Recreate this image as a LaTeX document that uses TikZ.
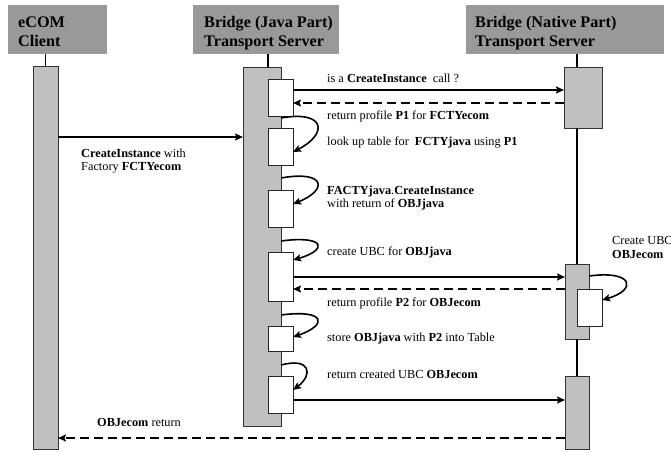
\documentclass[tikz,border=0pt]{standalone}
\usepackage{fontspec}
\setmainfont{Liberation Serif}
\usetikzlibrary{arrows.meta}
\definecolor{hdrgray}{RGB}{153,153,153}
\definecolor{bargray}{RGB}{192,192,192}
\begin{document}
\begin{tikzpicture}[x=1pt,y=-1pt,
  hdr/.style={fill=hdrgray, draw=none, inner sep=0pt, outer sep=0pt, minimum height=49pt},
  hdrtext/.style={anchor=base west, inner sep=0pt, font=\fontsize{16.2}{18}\selectfont\bfseries},
  bar/.style={fill=bargray, draw=black!80, line width=0.9pt, inner sep=0pt, outer sep=0pt},
  act/.style={fill=white, draw=black!85, line width=0.9pt, inner sep=0pt, outer sep=0pt, minimum width=25pt},
  life/.style={line width=1.8pt},
  tip/.style={-{Stealth[length=8pt,width=7pt,inset=1.5pt]}},
  msg/.style={tip, line width=1.8pt},
  reply/.style={tip, line width=1.8pt, dash pattern=on 9pt off 5pt},
  selfcall/.style={tip, line width=1.6pt},
  lbl/.style={anchor=base west, inner sep=0pt, font=\fontsize{12.3}{13.5}\selectfont},
]
\useasboundingbox (0,0) rectangle (671,452);

% participant headers
\node[hdr, minimum width=99pt]  (hE) at (57.5,29.5) {};
\node[hdr, minimum width=146pt] (hJ) at (266,29.5) {};
\node[hdr, minimum width=198pt] (hN) at (565,29.5) {};
\node[hdrtext] (hE1) at (18,28)  {eCOM};
\node[hdrtext] (hE2) at (18,46)  {Client};
\node[hdrtext] (hJ1) at (204,28) {Bridge (Java Part)};
\node[hdrtext] (hJ2) at (204,46) {Transport Server};
\node[hdrtext] (hN1) at (475,28) {Bridge (Native Part)};
\node[hdrtext] (hN2) at (475,46) {Transport Server};

% lifeline bars
\node[bar, minimum width=25pt, minimum height=383pt] (eC) at (45.5,257.5) {};
\node[bar, minimum width=38pt, minimum height=359pt] (jv) at (262,246.5) {};
\node[bar, minimum width=38pt, minimum height=61pt]  (n1) at (583,97.5) {};
\node[bar, minimum width=24pt, minimum height=75pt]  (n2) at (577,301.5) {};
\node[bar, minimum width=24pt, minimum height=73pt]  (n3) at (577,412.5) {};

% activations on the Java part
\node[act, minimum height=37pt] (b1) at (280.5,97.5) {};
\node[act, minimum height=37pt] (b2) at (280.5,146.5) {};
\node[act, minimum height=37pt] (b3) at (280.5,208.5) {};
\node[act, minimum height=49pt] (b4) at (280.5,276.5) {};
\node[act, minimum height=25pt] (b5) at (280.5,338.5) {};
\node[act, minimum height=37pt] (b6) at (280.5,394.5) {};
% activation on the native part
\node[act, minimum height=37pt] (nb) at (589.5,307.5) {};

% lifeline stems
\draw[life] (hE.south -| eC.north) -- (eC.north);
\draw[life] (hJ.south -| b1.west) -- (jv.north -| b1.west);
\draw[life] (hN.south -| n2.north) -- (n1.north -| n2.north);
\draw[life] (n1.south -| n2.north) -- (n2.north);
\draw[life] (n2.south) -- (n3.north);

% messages
\draw[msg]   ([yshift=120.5pt]eC.east) -- ([yshift=120.5pt]eC.east -| jv.west);
\draw[msg]   ([yshift=7.5pt]b1.east) -- ([yshift=7.5pt]b1.east -| n1.west);
\draw[reply] ([yshift=-5.5pt]b1.east -| n1.west) -- ([yshift=-5.5pt]b1.east);
\draw[msg]   ([yshift=-0.5pt]b4.east) -- ([yshift=-0.5pt]b4.east -| n2.west);
\draw[reply] ([yshift=-12.5pt]b4.east -| n2.west) -- ([yshift=-12.5pt]b4.east);
\draw[msg]   ([yshift=-5.5pt]b6.east) -- ([yshift=-5.5pt]b6.east -| n3.west);
\draw[reply] ([yshift=-180.5pt]eC.east -| n3.west) -- ([yshift=-180.5pt]eC.east);

% self calls
\draw[selfcall] ([yshift=-2pt]b1.south -| jv.east) .. controls +(45,-8) and +(35,-18) .. ([yshift=-5.5pt]b2.east);
\draw[selfcall] ([yshift=-13pt]b2.south -| jv.east) .. controls +(45,-8) and +(35,-14) .. ([yshift=4.5pt]b3.east);
\draw[selfcall] ([yshift=-14pt]b3.south -| jv.east) .. controls +(45,-6) and +(35,-10) .. ([yshift=16.5pt]b4.east);
\draw[selfcall] ([yshift=-14pt]b4.south -| jv.east) .. controls +(45,-6) and +(35,-12) .. ([yshift=1.5pt]b5.east);
\draw[selfcall] ([yshift=-14pt]b5.south -| jv.east) .. controls +(30,-8) and +(20,-15) .. ([yshift=4.5pt]b6.east);
\draw[selfcall] ([yshift=-12pt]n2.north east) .. controls +(45,-6) and +(35,-10) .. ([yshift=7.5pt]nb.east);

% labels
\node[lbl] (t1)  at (327,82)  {is a \textbf{CreateInstance}\ \ call ?};
\node[lbl] (t2)  at (327,119) {return profile \textbf{P1} for \textbf{FCTYecom}};
\node[lbl] (t3)  at (327,145) {look up table for\ \ \textbf{FCTYjava} using \textbf{P1}};
\node[lbl] (t4a) at (327,194) {\textbf{FACTYjava}.\textbf{CreateInstance}};
\node[lbl] (t4b) at (327,207) {with return of \textbf{OBJjava}};
\node[lbl] (t5)  at (327,255) {create UBC for \textbf{OBJjava}};
\node[lbl] (t6)  at (327,306) {return profile \textbf{P2} for \textbf{OBJecom}};
\node[lbl] (t7)  at (327,341) {store \textbf{OBJjava} with \textbf{P2} into Table};
\node[lbl] (t8)  at (327,378) {return created UBC \textbf{OBJecom}};
\node[lbl] (c1)  at (81,157)  {\textbf{CreateInstance} with};
\node[lbl] (c2)  at (81,170)  {Factory \textbf{FCTYecom}};
\node[lbl] (u1)  at (612,244) {Create UBC};
\node[lbl] (u2)  at (612,258) {\textbf{OBJecom}};
\node[lbl] (r1)  at (97,426)  {\textbf{OBJecom} return};
\end{tikzpicture}
\end{document}
